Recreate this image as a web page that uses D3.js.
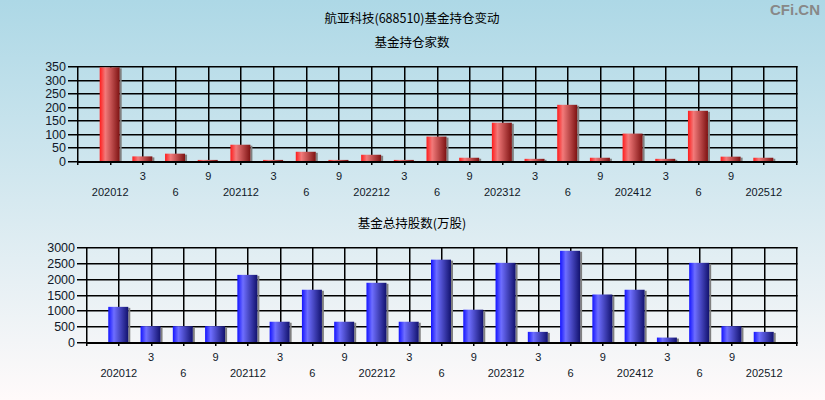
<!DOCTYPE html>
<html><head><meta charset="utf-8">
<script src="https://cdn.jsdelivr.net/npm/d3@7"></script>
<style>html,body{margin:0;padding:0;}svg{display:block;}</style>
</head><body>
<script>
const categories = ["202012","3","6","9","202112","3","6","9","202212","3","6","9","202312","3","6","9","202412","3","6","9","202512"];
const fundCounts = [345,17,27,4,60,4,34,4,23,4,90,12,141,8,207,12,101,8,185,16,12];
const fundShares = [1110,500,500,500,2120,640,1650,640,1870,640,2600,1020,2500,320,2880,1500,1650,140,2500,500,320];
const countTicks = [0,50,100,150,200,250,300,350];
const shareTicks = [0,500,1000,1500,2000,2500,3000];
const titleText = "航亚科技(688510)基金持仓变动";
const sub1 = "基金持仓家数";
const sub2 = "基金总持股数(万股)";

const W = 825, H = 400;
const svg = d3.select("body").append("svg").attr("width", W).attr("height", H);
const defs = svg.append("defs");
const bg = defs.append("linearGradient").attr("id","bg").attr("x1",0).attr("y1",0).attr("x2",0).attr("y2",1);
bg.append("stop").attr("offset","0%").attr("stop-color","#add8e6");
bg.append("stop").attr("offset","100%").attr("stop-color","#fffafa");
function barGrad(id, c0, c1, c2) {
  const g = defs.append("linearGradient").attr("id", id).attr("x1",0).attr("y1",0).attr("x2",1).attr("y2",0);
  g.append("stop").attr("offset","0%").attr("stop-color", c0);
  g.append("stop").attr("offset","28%").attr("stop-color", c1);
  g.append("stop").attr("offset","100%").attr("stop-color", c2);
}
barGrad("red", "#ff1c1c", "#f27a7a", "#7d1212");
barGrad("blue", "#1414ff", "#6e6eff", "#12126e");

svg.append("rect").attr("width", W).attr("height", H).attr("fill", "url(#bg)");

const font = "'Liberation Sans', Arial, sans-serif";
const cjk = "'Noto Sans CJK SC', 'Liberation Sans', sans-serif";

svg.append("text").attr("x", 412).attr("y", 23).attr("text-anchor","middle")
  .attr("font-family", cjk).attr("font-size", 12.5).attr("fill","#000").text(titleText);
svg.append("text").attr("x", 820).attr("y", 15).attr("text-anchor","end")
  .attr("font-family", font).attr("font-weight","bold").attr("font-size", 15).attr("fill","#888").text("CFi.CN");

function drawChart(cfg) {
  const {left, right, top, bottom, values, ticks, maxV, grad, subtitle, subY} = cfg;
  const g = svg.append("g");
  g.append("text").attr("x", 412).attr("y", subY).attr("text-anchor","middle")
    .attr("font-family", cjk).attr("font-size", 12.5).attr("fill","#000").text(subtitle);
  const x = d3.scalePoint().domain(d3.range(categories.length)).range([left, right]).padding(1);
  const y = d3.scaleLinear().domain([0, maxV]).range([bottom, top]);
  const lines = g.append("g");
  const sw = 1.5, off = 0.75;
  // horizontal grid + y ticks
  lines.selectAll(".hg").data(ticks).enter().append("line")
    .attr("x1", left - 9).attr("x2", right + 1.5).attr("y1", d => Math.round(y(d)) + off).attr("y2", d => Math.round(y(d)) + off)
    .attr("stroke", "#000").attr("stroke-width", sw);
  // vertical grid
  const vx = [left].concat(d3.range(categories.length).map(i => x(i))).concat([right]);
  lines.selectAll(".vg").data(vx).enter().append("line")
    .attr("x1", d => Math.round(d) + off).attr("x2", d => Math.round(d) + off)
    .attr("y1", top).attr("y2", bottom + 4)
    .attr("stroke", "#000").attr("stroke-width", sw);
  // y labels
  const yAxis = d3.axisLeft(y).tickValues(ticks).tickSize(0).tickPadding(0).tickFormat(d3.format("d"));
  const ya = g.append("g").attr("transform", `translate(${left - 11},0)`).call(yAxis);
  ya.select(".domain").remove();
  ya.selectAll("text").attr("font-family", font).attr("font-size", 12.5).attr("fill", "#101828").attr("dy", "0.36em");
  // bars
  const bw = 20;
  const bars = g.selectAll(".bar").data(values).enter().append("g");
  bars.append("rect").attr("x", (d,i) => x(i) - bw/2 + bw).attr("y", d => y(d) + 1)
    .attr("width", 2).attr("height", d => Math.max(0, bottom - y(d) - 1)).attr("fill", "#808080");
  bars.append("rect").attr("x", (d,i) => x(i) - bw/2).attr("y", d => y(d))
    .attr("width", bw).attr("height", d => bottom - y(d)).attr("fill", `url(#${grad})`);
  // x axis line
  g.append("line").attr("x1", left).attr("x2", right + 1.5).attr("y1", bottom + 1).attr("y2", bottom + 1)
    .attr("stroke", "#000").attr("stroke-width", 2);
  // x labels
  const xAxis = d3.axisBottom(x).tickSize(0).tickFormat(i => categories[i]);
  const xa = g.append("g").attr("transform", `translate(0,${bottom})`).call(xAxis);
  xa.select(".domain").remove();
  xa.selectAll("text").attr("font-family", font).attr("font-size", 11).attr("fill", "#101828")
    .attr("y", (d) => d % 2 === 1 ? 19 : 35).attr("dy", 0);
}

drawChart({left: 77, right: 796, top: 66, bottom: 161, values: fundCounts, ticks: countTicks, maxV: 350,
  grad: "red", subtitle: sub1, subY: 47});
drawChart({left: 86, right: 796, top: 247, bottom: 342, values: fundShares, ticks: shareTicks, maxV: 3000,
  grad: "blue", subtitle: sub2, subY: 228});
</script>
</body></html>
